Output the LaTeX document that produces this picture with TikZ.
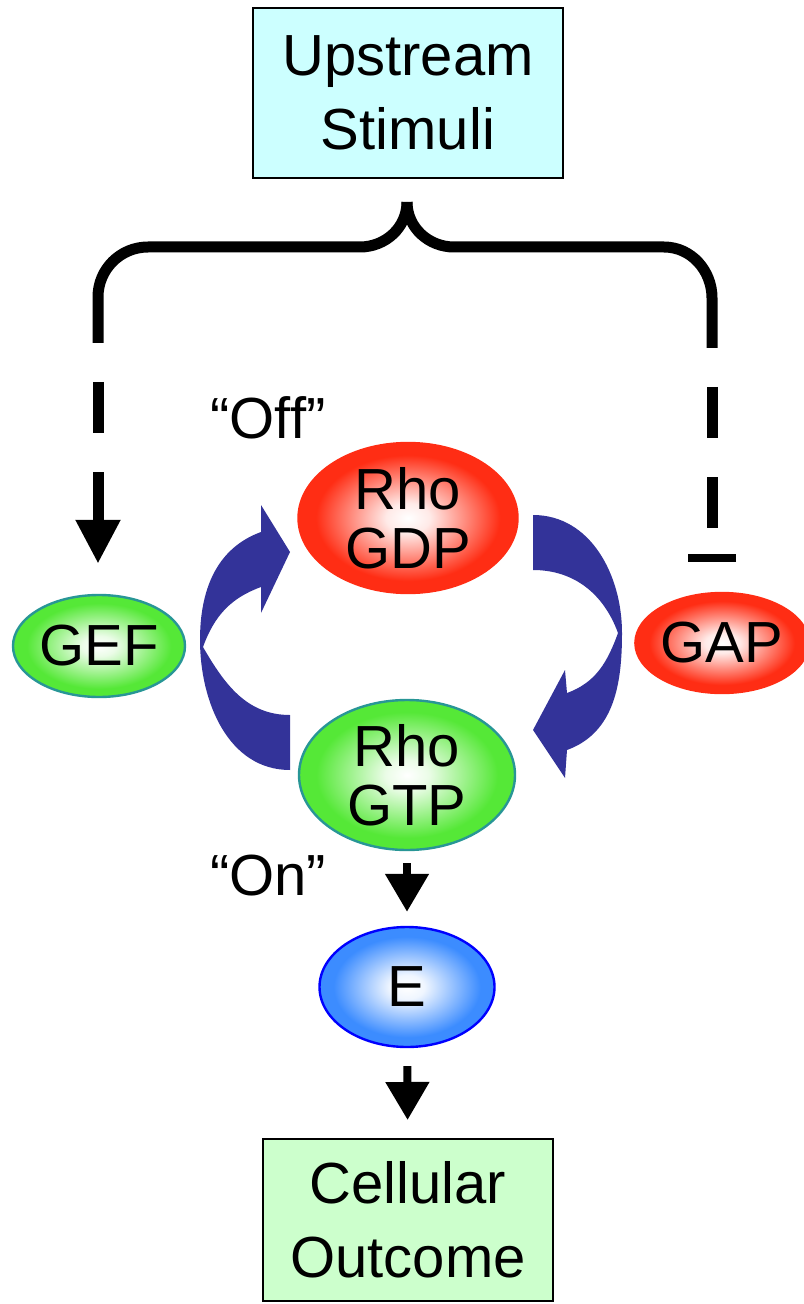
\documentclass[tikz,border=0pt]{standalone}
\usepackage{fontspec}
\setmainfont{Liberation Sans}
\usetikzlibrary{arrows.meta,shapes.geometric}
\definecolor{rhored}{RGB}{255,45,20}
\definecolor{rhogreen}{RGB}{85,232,55}
\definecolor{tealrim}{RGB}{40,150,150}
\definecolor{effblue}{RGB}{60,140,255}
\definecolor{cycblue}{RGB}{51,51,153}
\definecolor{stimfill}{RGB}{204,255,255}
\definecolor{outfill}{RGB}{204,255,204}
\colorlet{redpale}{rhored!10!white}
\colorlet{greenpale}{rhogreen!12!white}
\colorlet{bluepale}{effblue!8!white}
\pgfdeclareradialshading{redball}{\pgfpoint{0bp}{0bp}}{color(0bp)=(white); color(5bp)=(redpale); color(21bp)=(rhored); color(25bp)=(rhored); color(50bp)=(rhored)}
\pgfdeclareradialshading{greenball}{\pgfpoint{0bp}{0bp}}{color(0bp)=(white); color(5bp)=(greenpale); color(21bp)=(rhogreen); color(25bp)=(rhogreen); color(50bp)=(rhogreen)}
\pgfdeclareradialshading{blueball}{\pgfpoint{0bp}{0bp}}{color(0bp)=(white); color(5bp)=(bluepale); color(21bp)=(effblue); color(25bp)=(effblue); color(50bp)=(effblue)}

\begin{document}
\begin{tikzpicture}
	[x=0.5pt,y=-0.5pt,
	every node/.style={align=center, font=\fontsize{29}{29.5}\selectfont},
	box/.style={draw, line width=1pt, inner sep=0pt, font=\fontsize{29}{37}\selectfont},
	blob/.style={ellipse, inner sep=0pt, line width=1.2pt},
	brace/.style={line width=5.5pt},
	dashes/.style={line width=5.5pt, dash pattern=on 25.5pt off 19.5pt, dash phase=25.5pt},
	flow/.style={line width=4pt, -{Triangle[length=19pt,width=21pt]}}]
	\useasboundingbox (0,0) rectangle (803,1304);
	\node[box, fill=stimfill, minimum width=155pt, minimum height=85pt] (stim) at (408,93) {Upstream\\Stimuli};
	\node[blob, shading=redball, draw=rhored, minimum width=109.5pt, minimum height=75pt] (gdp) at (408,518) {Rho\\GDP};
	\node[blob, shading=greenball, draw=tealrim, minimum width=108pt, minimum height=75pt] (gtp) at (407,775) {Rho\\GTP};
	\node[blob, shading=greenball, draw=tealrim, minimum width=86pt, minimum height=51pt] (gef) at (99,646) {GEF};
	\node[blob, shading=redball, draw=rhored, minimum width=85pt, minimum height=50pt] (gap) at (722,643) {GAP};
	\node[blob, shading=blueball, draw=blue, minimum width=87.5pt, minimum height=60pt] (eff) at (407,987) {E};
	\node[box, fill=outfill, minimum width=145pt, minimum height=81pt] (out) at (408,1220) {Cellular\\Outcome};
	\node (off) at (268,418) {“Off”};
	\node (on) at (268,876) {“On”};

	\coordinate (tip) at (407,202);
	\coordinate (lc) at (98,343);
	\coordinate (rc) at (712,348);
	\draw[brace] (tip) to[out=270,in=0] (360,247) -- (148,247) to[out=180,in=90] (98,297) -- (lc);
	\draw[brace] (tip) to[out=270,in=180] (454,247) -- (664,247) to[out=0,in=90] (712,298) -- (rc);
	\draw[dashes, -{Triangle[length=22pt,width=21pt]}, shorten >=15pt] (lc) -- (lc |- gef.north);
	\draw[dashes, -{Bar[width=24pt,line width=4pt]}, shorten >=15pt] (rc) -- (rc |- gap.north);

	\fill[cycblue] (290,770) to[out=180,in=270] (200,640) to[out=90,in=200] (261,532) -- (261,505) -- (290,552) -- (261,613) -- (261,587) to[out=200,in=70] (203,647) to[out=300,in=180] (290,715) -- cycle;
	\fill[cycblue] (533,515) to[out=0,in=90] (622,633) to[out=270,in=20] (567,750) -- (565,778) -- (533,730) -- (565,670) -- (567,693) to[out=20,in=250] (618,633) to[out=110,in=0] (533,570) -- cycle;

	\draw[flow, shorten <=6pt, shorten >=7pt] (gtp) -- (eff);
	\draw[flow, shorten <=9pt, shorten >=9pt] (eff) -- (out);
\end{tikzpicture}
\end{document}
